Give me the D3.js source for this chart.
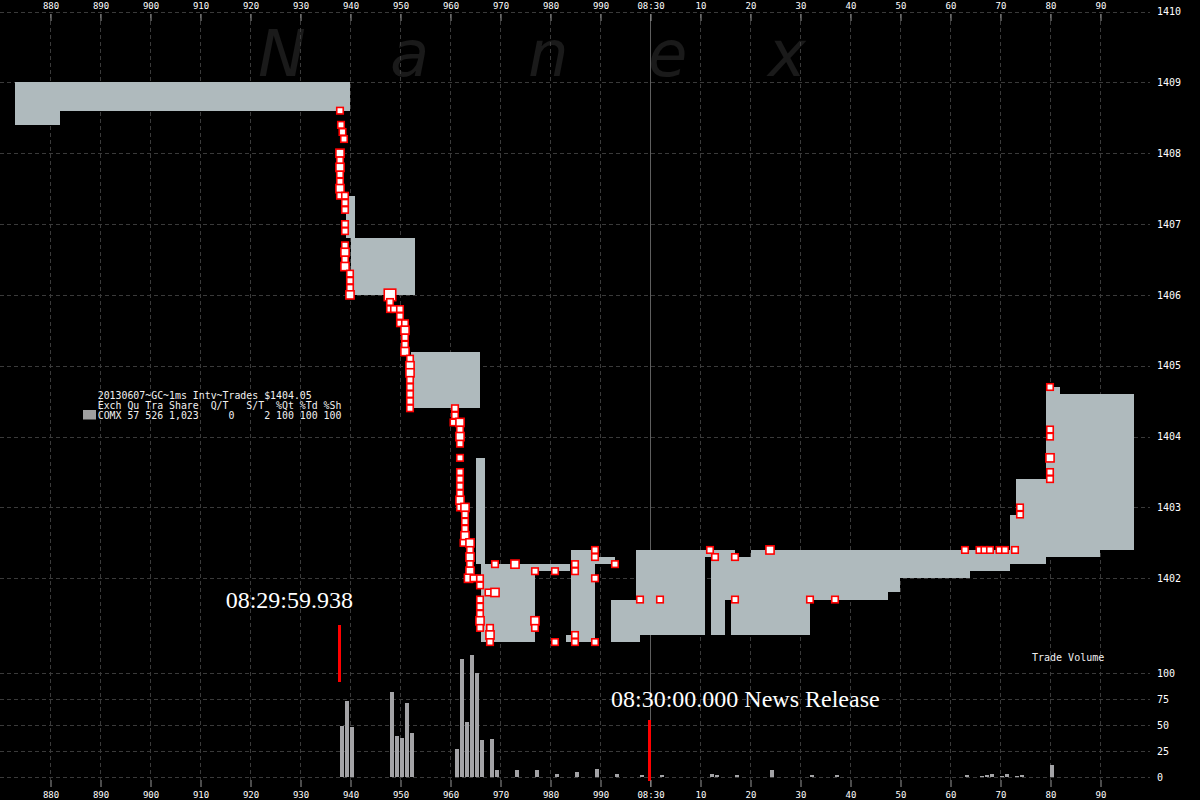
<!DOCTYPE html>
<html><head><meta charset="utf-8">
<script src="https://cdn.jsdelivr.net/npm/d3@7"></script>
<style>html,body{margin:0;padding:0;background:#000;overflow:hidden}</style>
</head><body><svg id="c" width="1200" height="800"></svg>
<script>
// ---------- data ----------
const timeTicks = [880,890,900,910,920,930,940,950,960,970,980,990,1000,1010,1020,1030,1040,1050,1060,1070,1080,1090];
const timeTickLabels = ["880","890","900","910","920","930","940","950","960","970","980","990","08:30","10","20","30","40","50","60","70","80","90"];
const priceTicks = [1402,1403,1404,1405,1406,1407,1408,1409,1410];
const volumeTicks = [0,25,50,75,100];

// NBBO quote spans (ms after 08:29:59.000)
const quoteStart = [873,882,939.2,940.2,952.2,965.2,966.2,977,983.2,984.2,989,992.2,997.2,1011,1012.2,1015,1016.2,1017,1020.2,1032,1047.6,1050,1064,1072,1073.2,1079.2,1082,1090];
const quoteEnd   = [882,940,941,953,966,967,977,984,984.2,989,993,998,1011,1012.2,1015,1016.2,1017,1020.2,1032,1047.6,1050,1064,1072,1073.2,1079.2,1082,1090,1096.8];
const quoteBid   = [1408.4,1408.6,1406.8,1406.0,1404.4,1402.2,1401.1,1402.1,1401.1,1401.1,1402.2,1401.1,1401.2,1402.3,1401.2,1401.7,1401.2,1401.2,1401.2,1401.7,1401.8,1402.0,1402.1,1402.2,1402.2,1402.3,1402.3,1402.4];
const quoteAsk   = [1409.0,1409.0,1407.4,1406.8,1405.2,1403.7,1402.2,1402.2,1401.2,1402.4,1402.3,1401.7,1402.4,1402.4,1402.4,1402.4,1402.4,1402.3,1402.4,1402.4,1402.4,1402.4,1402.4,1402.9,1403.4,1404.7,1404.6,1404.6];

// trades
const tradeTime = [938,938.2,938.5,938.8,938,938,938,938,938,938,938,939,939,939,939,939,939,939,939,939,
  940,940,940,940,948,948,948,948.8,950,950,950,951,951,951,951,951,952,952,952,952,952,952,952,952,
  961,961,960.7,962,962,962,962,962,962,962,962,962,962,962,963,963,963,963,963,962.7,964,964,964,964,964,963.7,964.7,966,966,
  969,973,977,981,985,985,989,989,993,989,967.7,969,966,966,966,966,966,968,968,968,977,977,981,985,985,989,
  998,1002,1012,1013,1017,1024,1017,1032,1037,1063,1065.9,1066.9,1068,1069.9,1071,1073,1074,1074,1080,1080,1080,1080,1080,1080];
const tradePrice = [1408.6,1408.4,1408.3,1408.2,1408.0,1407.9,1407.8,1407.7,1407.6,1407.5,1407.4,1407.4,1407.3,1407.2,1407.0,1406.9,1406.7,1406.6,1406.5,1406.4,
  1406.3,1406.2,1406.1,1406.0,1406.0,1405.9,1405.8,1405.8,1405.8,1405.7,1405.6,1405.6,1405.5,1405.4,1405.3,1405.2,1405.1,1405.0,1404.9,1404.8,1404.7,1404.6,1404.5,1404.4,
  1404.4,1404.3,1404.2,1404.2,1404.1,1404.0,1403.9,1403.7,1403.5,1403.4,1403.3,1403.2,1403.1,1403.0,1403.0,1402.9,1402.8,1402.7,1402.6,1402.5,1402.5,1402.4,1402.3,1402.2,1402.1,1402.0,1402.0,1402.0,1401.9,
  1402.2,1402.2,1402.1,1402.1,1402.2,1402.1,1402.4,1402.3,1402.2,1402.0,1401.8,1401.8,1401.7,1401.6,1401.5,1401.4,1401.3,1401.3,1401.2,1401.1,1401.4,1401.3,1401.1,1401.2,1401.1,1401.1,
  1401.7,1401.7,1402.4,1402.3,1402.3,1402.4,1401.7,1401.7,1401.7,1402.4,1402.4,1402.4,1402.4,1402.4,1402.4,1402.4,1403.0,1402.9,1404.7,1404.1,1404.0,1403.7,1403.5,1403.4];
const tradeSize = [1,1,1,1,3,1,3,1,1,3,1,1,1,1,1,1,1,3,1,3,
  1,1,1,3,10,1,1,1,1,1,1,1,3,1,1,3,1,3,3,1,1,1,1,1,
  1,1,1,3,1,3,1,1,1,1,1,1,3,1,3,1,1,1,3,1,3,1,3,1,3,3,1,1,1,
  1,3,1,1,1,1,1,1,1,1,1,3,1,1,1,3,1,1,3,1,3,1,1,1,1,1,
  1,1,1,1,1,3,1,1,1,1,1,1,1,1,1,1,1,1,1,1,1,3,1,1];

// trade volume per 1ms bin
const volumeTime  = [938,939,940,948,949,950,951,952,961,962,963,964,965,966,968,969,973,977,981,985,989,993,998,1002,1012,1013,1017,1024,1032,1037,1063,1066,1067,1068,1070,1071,1073,1074,1080];
const volumeValue = [49,73,48,82,40,38,71,42,27,114,53,118,100,36,37,7,7,7,3,5,8,3,2,2,3,2,2,7,2,2,2,1,2,3,1,3,1,2,12];

const eventTimes = [938, 1000];
const eventLabels = ["08:29:59.938", "08:30:00.000 News Release"];
const legendLines = ["20130607~GC~1ms Intv~Trades $1404.05",
                     "Exch Qu Tra Share  Q/T   S/T  %Qt %Td %Sh",
                     "COMX 57 526 1,023     0     2 100 100 100"];
const watermark = ["N","a","n","e","x"];

// ---------- drawing ----------
const svg = d3.select("#c");
svg.append("rect").attr("width",1200).attr("height",800).attr("fill","#000");

const x = d3.scaleLinear().domain([870, 1100]).range([0, 1150]);
const y = d3.scaleLinear().domain([1402, 1410]).range([578.3, 11.5]);
const yv = d3.scaleLinear().domain([0, 100]).range([777, 673.3]);
const mark = d3.scaleSqrt().domain([1, 10]).range([8, 13]);

// watermark
const wmX = [258, 390, 528, 648, 768];
svg.append("g").selectAll("text").data(watermark).join("text")
  .attr("x",(d,i)=>wmX[i]).attr("y",76)
  .attr("font-family","DejaVu Sans").attr("font-style","italic")
  .attr("font-size",64).attr("fill","#1a1a1a").text(d=>d);

// grid
const grid = svg.append("g").attr("stroke","#3a3a3a").attr("stroke-dasharray","4,3").attr("stroke-width",1);
grid.selectAll("line.v").data(timeTicks).join("line").attr("class","v")
  .attr("x1",d=>Math.round(x(d))+0.5).attr("x2",d=>Math.round(x(d))+0.5).attr("y1",14).attr("y2",780);
grid.selectAll("line.h").data(priceTicks).join("line").attr("class","h")
  .attr("x1",0).attr("x2",1150).attr("y1",d=>Math.round(y(d))+0.5).attr("y2",d=>Math.round(y(d))+0.5);
grid.selectAll("line.hv").data(volumeTicks).join("line").attr("class","hv")
  .attr("x1",0).attr("x2",1150).attr("y1",d=>Math.round(yv(d))+0.5).attr("y2",d=>Math.round(yv(d))+0.5);

// 08:30 line
svg.append("line").attr("x1",Math.round(x(1000))+0.5).attr("x2",Math.round(x(1000))+0.5)
  .attr("y1",14).attr("y2",787).attr("stroke","#5e5e5e").attr("stroke-width",1);

// quotes
svg.append("g").selectAll("rect").data(quoteStart).join("rect")
  .attr("x",(d,i)=>x(quoteStart[i])).attr("width",(d,i)=>x(quoteEnd[i])-x(quoteStart[i]))
  .attr("y",(d,i)=>y(quoteAsk[i])).attr("height",(d,i)=>y(quoteBid[i])-y(quoteAsk[i]))
  .attr("fill","#afbabd").attr("shape-rendering","crispEdges");

// volume bars
svg.append("g").selectAll("rect").data(volumeTime).join("rect")
  .attr("x",d=>x(d)).attr("width",4)
  .attr("y",(d,i)=>yv(volumeValue[i])).attr("height",(d,i)=>yv(0)-yv(volumeValue[i]))
  .attr("fill","#a3a3a6").attr("shape-rendering","crispEdges");

// trades
svg.append("g").selectAll("rect").data(tradeTime).join("rect")
  .attr("x",(d,i)=>x(d)-mark(tradeSize[i])/2+0.75).attr("y",(d,i)=>y(tradePrice[i])-mark(tradeSize[i])/2+0.75)
  .attr("width",(d,i)=>mark(tradeSize[i])-1.5).attr("height",(d,i)=>mark(tradeSize[i])-1.5)
  .attr("fill","#fff").attr("stroke","#f00").attr("stroke-width",1.6);

// event markers
svg.append("line").attr("x1",x(eventTimes[0])-0.5).attr("x2",x(eventTimes[0])-0.5).attr("y1",625).attr("y2",682)
  .attr("stroke","#f00").attr("stroke-width",3);
svg.append("line").attr("x1",x(eventTimes[1])-0.5).attr("x2",x(eventTimes[1])-0.5).attr("y1",720).attr("y2",781)
  .attr("stroke","#f00").attr("stroke-width",3);
svg.append("text").attr("x",x(eventTimes[0])+13).attr("y",608).attr("text-anchor","end")
  .attr("font-family","Liberation Serif").attr("font-size",24).attr("fill","#fff").text(eventLabels[0]);
svg.append("text").attr("x",x(eventTimes[1])-39).attr("y",707)
  .attr("font-family","Liberation Serif").attr("font-size",24).attr("fill","#fff").text(eventLabels[1]);

// legend
svg.append("rect").attr("x",83).attr("y",410).attr("width",13).attr("height",9.5).attr("fill","#a0a0a0");
svg.append("g").selectAll("text").data(legendLines).join("text")
  .attr("x",97.7).attr("y",(d,i)=>398.5+i*10).attr("xml:space","preserve").style("white-space","pre")
  .attr("font-family","DejaVu Sans Mono").attr("font-size",9.9).attr("fill","#f0f0f0").text(d=>d);

svg.append("text").attr("x",1032).attr("y",661).attr("font-family","DejaVu Sans Mono")
  .attr("font-size",10).attr("fill","#f0f0f0").text("Trade Volume");

// axes
function styleAxis(g, size){
  g.select(".domain").remove();
  g.selectAll("line").attr("stroke","#9a9a9a");
  g.selectAll("text").attr("fill","#fff").attr("font-family","DejaVu Sans Mono").attr("font-size",size);
}
const fmt = (d)=>timeTickLabels[timeTicks.indexOf(d)];
svg.append("g").attr("transform","translate(0.5,21)")
  .call(d3.axisTop(x).tickValues(timeTicks).tickFormat(fmt).tickSize(7).tickPadding(5)).call(g=>styleAxis(g,9));
svg.append("g").attr("transform","translate(0.5,780)")
  .call(d3.axisBottom(x).tickValues(timeTicks).tickFormat(fmt).tickSize(7).tickPadding(5)).call(g=>styleAxis(g,9));
svg.append("g").attr("transform","translate(1150,0)")
  .call(d3.axisRight(y).tickValues(priceTicks).tickFormat(d3.format("d")).tickSize(0).tickPadding(7)).call(g=>styleAxis(g,10));
svg.append("g").attr("transform","translate(1150,0)")
  .call(d3.axisRight(yv).tickValues(volumeTicks).tickFormat(d3.format("d")).tickSize(0).tickPadding(7)).call(g=>styleAxis(g,10));
</script></body></html>
